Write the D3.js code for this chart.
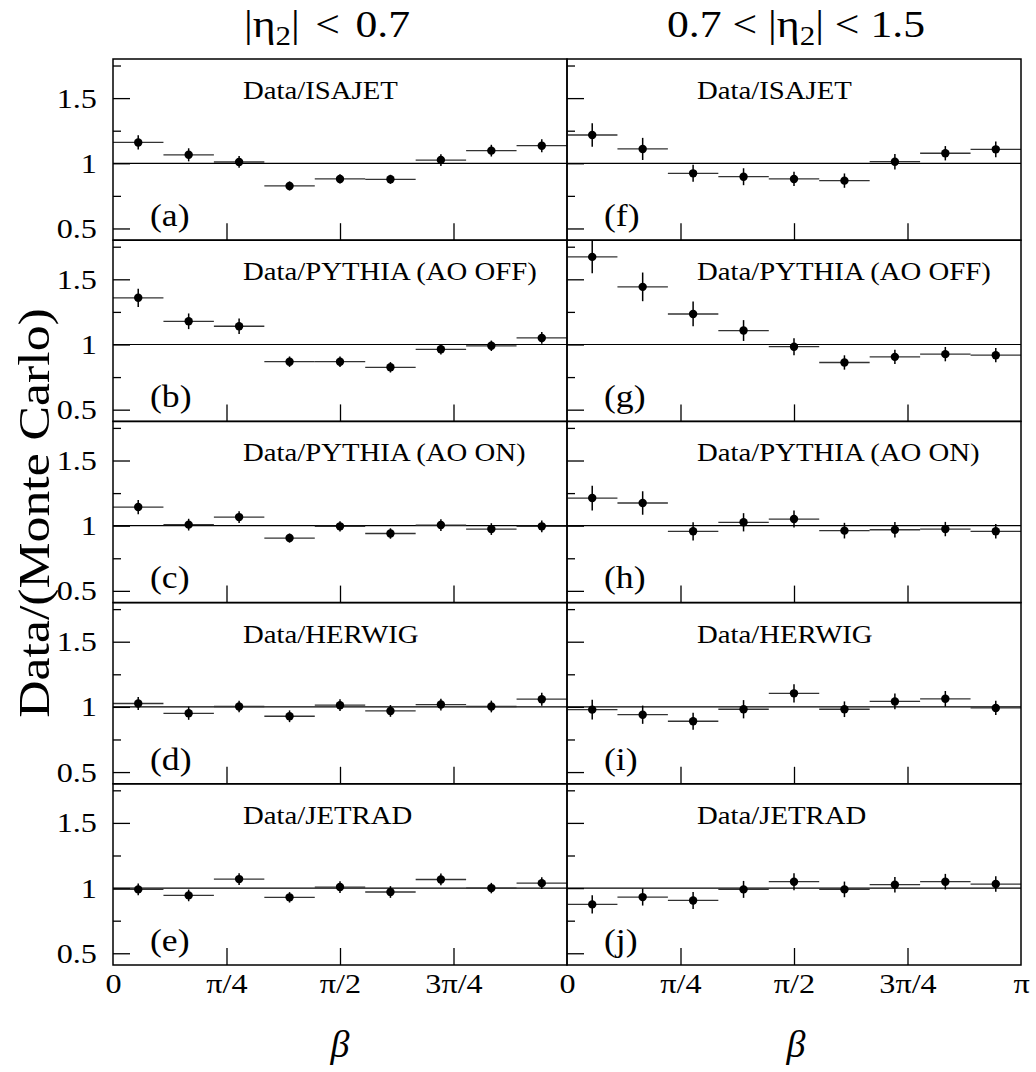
<!DOCTYPE html>
<html>
<head>
<meta charset="utf-8">
<script src="https://cdn.jsdelivr.net/npm/d3@7.9.0/dist/d3.min.js"></script>
<style>
  html, body { margin: 0; padding: 0; background: #fff; }
  svg { display: block; font-family: 'Liberation Serif', 'Times New Roman', serif; }
</style>
</head>
<body>
<svg id="chart" width="1036" height="1072"></svg>
<script>
// panel titles, one per row
const MODELS = ['Data/ISAJET', 'Data/PYTHIA (AO OFF)', 'Data/PYTHIA (AO ON)', 'Data/HERWIG', 'Data/JETRAD'];
const LETTERS_CENTRAL = ['(a)', '(b)', '(c)', '(d)', '(e)'];
const LETTERS_FORWARD = ['(f)', '(g)', '(h)', '(i)', '(j)'];

// |eta2| < 0.7, nine beta bins from 0 to pi
const centralRatio = [
  [1.16, 1.065, 1.01, 0.826, 0.88, 0.877, 1.025, 1.097, 1.135],
  [1.358, 1.178, 1.14, 0.868, 0.868, 0.825, 0.963, 0.99, 1.05],
  [1.143, 1.008, 1.066, 0.905, 0.995, 0.94, 1.005, 0.974, 0.995],
  [1.026, 0.951, 1.003, 0.928, 1.013, 0.969, 1.018, 1.003, 1.059],
  [0.99, 0.944, 1.069, 0.929, 1.008, 0.97, 1.066, 1.0, 1.038],
];
const centralError = [
  [0.055, 0.05, 0.045, 0.035, 0.035, 0.035, 0.045, 0.045, 0.05],
  [0.07, 0.06, 0.06, 0.04, 0.04, 0.04, 0.04, 0.04, 0.045],
  [0.055, 0.045, 0.045, 0.035, 0.04, 0.04, 0.045, 0.045, 0.045],
  [0.05, 0.05, 0.045, 0.045, 0.045, 0.045, 0.045, 0.045, 0.05],
  [0.045, 0.045, 0.045, 0.04, 0.045, 0.045, 0.045, 0.04, 0.045],
];

// 0.7 < |eta2| < 1.5
const forwardRatio = [
  [1.217, 1.11, 0.923, 0.897, 0.88, 0.867, 1.012, 1.077, 1.107],
  [1.672, 1.442, 1.234, 1.107, 0.983, 0.862, 0.905, 0.926, 0.918],
  [1.212, 1.174, 0.957, 1.026, 1.051, 0.962, 0.969, 0.974, 0.957],
  [0.979, 0.94, 0.89, 0.982, 1.104, 0.982, 1.042, 1.062, 0.992],
  [0.875, 0.931, 0.905, 0.99, 1.049, 0.99, 1.026, 1.049, 1.031],
];
const forwardError = [
  [0.09, 0.085, 0.065, 0.065, 0.055, 0.055, 0.06, 0.055, 0.06],
  [0.125, 0.11, 0.095, 0.08, 0.065, 0.055, 0.055, 0.055, 0.055],
  [0.095, 0.09, 0.07, 0.07, 0.065, 0.06, 0.06, 0.055, 0.055],
  [0.075, 0.07, 0.065, 0.07, 0.07, 0.06, 0.06, 0.06, 0.055],
  [0.07, 0.065, 0.065, 0.065, 0.065, 0.06, 0.06, 0.06, 0.06],
];

const X_TICKS = [0, Math.PI / 4, Math.PI / 2, 3 * Math.PI / 4, Math.PI];
const X_TICK_LABELS = ['0', 'π/4', 'π/2', '3π/4', 'π'];
const Y_MAJOR = [0.5, 1, 1.5];
const Y_MINOR = [0.75, 1.25, 1.75];

const LEFT = 113;
const MID = 567;
const RIGHT = 1021;
const TOP = 59;
const ROW_H = 181.2;
const STRETCH = 1.15;
const BIN_COUNT = 9;

const svg = d3.select('#chart');

const columns = [
  { x0: LEFT, x1: MID, ratio: centralRatio, error: centralError, letters: LETTERS_CENTRAL, lastLabel: false },
  { x0: MID, x1: RIGHT, ratio: forwardRatio, error: forwardError, letters: LETTERS_FORWARD, lastLabel: true },
];

function stretchedText(parent, x, y, text, size, anchor = 'start') {
  return parent
    .append('text')
    .attr('transform', `translate(${x},${y}) scale(${STRETCH},1)`)
    .attr('font-size', size)
    .attr('text-anchor', anchor)
    .text(text);
}

columns.forEach((col, ci) => {
  const x = d3.scaleLinear().domain([0, Math.PI]).range([col.x0, col.x1]);
  const binWidth = Math.PI / BIN_COUNT;

  MODELS.forEach((model, ri) => {
    const top = TOP + ri * ROW_H;
    const bottom = top + ROW_H;
    const y = d3.scaleLinear().domain([0.41, 1.8]).range([bottom, top]);
    const g = svg.append('g').attr('class', `panel panel-${ci}-${ri}`);

    const points = col.ratio[ri].map((v, i) => ({
      lo: i * binWidth,
      hi: (i + 1) * binWidth,
      mid: (i + 0.5) * binWidth,
      v,
      err: col.error[ri][i],
    }));

    // reference line at 1
    g.append('line')
      .attr('x1', col.x0).attr('x2', col.x1)
      .attr('y1', y(1)).attr('y2', y(1))
      .attr('stroke', '#000').attr('stroke-width', 1.2);

    // y ticks (inward)
    const yMajor = d3.axisLeft(y).tickValues(Y_MAJOR).tickSize(-17).tickPadding(14)
      .tickFormat(ci === 0 ? d3.format('') : () => '');
    const yAxis = g.append('g').attr('transform', `translate(${col.x0},0)`).call(yMajor);
    yAxis.select('.domain').remove();
    yAxis.selectAll('line').attr('stroke', '#000').attr('stroke-width', 1.3);
    yAxis.selectAll('text')
      .attr('font-size', 28)
      .attr('font-family', "'Liberation Serif', serif")
      .attr('fill', '#000')
      .attr('transform', `scale(${STRETCH},1)`);

    const yMinor = d3.axisLeft(y).tickValues(Y_MINOR).tickSize(-8).tickFormat('');
    const yMinorAxis = g.append('g').attr('transform', `translate(${col.x0},0)`).call(yMinor);
    yMinorAxis.select('.domain').remove();
    yMinorAxis.selectAll('line').attr('stroke', '#000').attr('stroke-width', 1.3);

    // x ticks (inward, from bottom)
    const xInner = d3.axisBottom(x).tickValues(X_TICKS.slice(1, 4)).tickSize(-17).tickFormat('');
    const xAxis = g.append('g').attr('transform', `translate(0,${bottom})`).call(xInner);
    xAxis.select('.domain').remove();
    xAxis.selectAll('line').attr('stroke', '#000').attr('stroke-width', 1.3);

    if (ri === MODELS.length - 1) {
      const values = col.lastLabel ? X_TICKS : X_TICKS.slice(0, 4);
      const xLabels = d3.axisBottom(x).tickValues(values).tickSize(0).tickPadding(8)
        .tickFormat((d) => X_TICK_LABELS[X_TICKS.indexOf(d)]);
      const xl = g.append('g').attr('transform', `translate(0,${bottom})`).call(xLabels);
      xl.select('.domain').remove();
      xl.selectAll('text')
        .attr('font-size', 28)
        .attr('font-family', "'Liberation Serif', serif")
        .attr('fill', '#000')
        .attr('transform', `scale(${STRETCH},1)`);
    }

    // bin widths
    g.selectAll('line.bin')
      .data(points)
      .join('line')
      .attr('class', 'bin')
      .attr('x1', (d) => x(d.lo)).attr('x2', (d) => x(d.hi))
      .attr('y1', (d) => y(d.v)).attr('y2', (d) => y(d.v))
      .attr('stroke', '#333').attr('stroke-width', 1.3);

    // error bars
    g.selectAll('line.err')
      .data(points)
      .join('line')
      .attr('class', 'err')
      .attr('x1', (d) => x(d.mid)).attr('x2', (d) => x(d.mid))
      .attr('y1', (d) => y(d.v - d.err)).attr('y2', (d) => y(d.v + d.err))
      .attr('stroke', '#000').attr('stroke-width', 1.5);

    g.selectAll('circle')
      .data(points)
      .join('circle')
      .attr('cx', (d) => x(d.mid))
      .attr('cy', (d) => y(d.v))
      .attr('r', 4.2)
      .attr('fill', '#000');

    // frame
    g.append('rect')
      .attr('x', col.x0).attr('y', top)
      .attr('width', col.x1 - col.x0).attr('height', ROW_H)
      .attr('fill', 'none').attr('stroke', '#000').attr('stroke-width', 1.5);

    stretchedText(g, col.x0 + 130, top + 40, model, 25);
    stretchedText(g, col.x0 + 37, top + 167, col.letters[ri], 31);
  });
});

// column headings
function heading(cx, wordSpacing, parts) {
  const t = svg.append('text')
    .attr('transform', `translate(${cx},37) scale(${STRETCH},1)`)
    .attr('font-size', 38)
    .attr('text-anchor', 'middle')
    .attr('word-spacing', wordSpacing);
  parts.forEach(([s, sub]) => {
    t.append('tspan')
      .attr('baseline-shift', sub ? '-30%' : null)
      .attr('font-size', sub ? 27 : null)
      .text(s);
  });
}
heading(327, 4, [['|η', false], ['2', true], ['| < 0.7', false]]);
heading(796, 0, [['0.7 < |η', false], ['2', true], ['| < 1.5', false]]);

// axis titles
[340, 796].forEach((cx) => {
  svg.append('text')
    .attr('x', cx).attr('y', 1057)
    .attr('font-size', 38)
    .attr('font-style', 'italic')
    .attr('text-anchor', 'middle')
    .text('β');
});

svg.append('text')
  .attr('transform', `translate(49,513) rotate(-90) scale(${STRETCH},1)`)
  .attr('font-size', 45)
  .attr('text-anchor', 'middle')
  .text('Data/(Monte Carlo)');
</script>
</body>
</html>
